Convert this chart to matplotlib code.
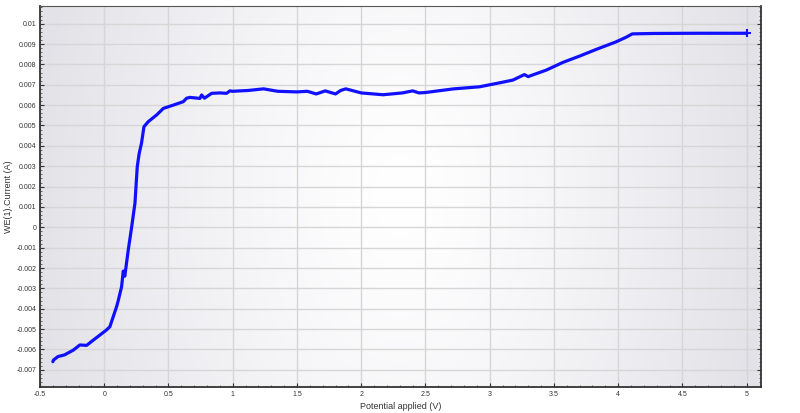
import numpy as np
import matplotlib
matplotlib.use("Agg")
import matplotlib.pyplot as plt
from matplotlib.ticker import MultipleLocator, FixedLocator

plt.rcParams['font.family'] = ['Liberation Sans', 'DejaVu Sans']

# Data
potential = [-0.40, -0.395, -0.36, -0.31, -0.24, -0.19, -0.137, -0.085, -0.033, 0.018,
             0.044, 0.07, 0.096, 0.109, 0.135, 0.148, 0.16, 0.187, 0.213, 0.239,
             0.257, 0.272, 0.29, 0.309, 0.343, 0.408, 0.46, 0.537, 0.615, 0.641,
             0.667, 0.745, 0.758, 0.78, 0.836, 0.90, 0.952, 0.978, 1.0, 1.056,
             1.12, 1.24, 1.35, 1.5, 1.58, 1.65, 1.72, 1.80, 1.84, 1.88, 2.0, 2.17, 2.32, 2.40,
             2.45, 2.5, 2.72, 2.92, 3.08, 3.18, 3.27, 3.30, 3.32, 3.44,
             3.57, 3.70, 3.83, 3.98, 4.06, 4.11, 4.27, 4.6, 5.0]
current = [-0.00660, -0.00652, -0.00635, -0.00627, -0.00603, -0.00578, -0.00580, -0.00554, -0.00529, -0.00504,
           -0.00488, -0.00439, -0.00390, -0.00360, -0.00292, -0.00215, -0.00240, -0.00111, 0.00000, 0.00118,
           0.00298, 0.00363, 0.00413, 0.00494, 0.00519, 0.00552, 0.00584, 0.00600, 0.00617, 0.00634,
           0.00638, 0.00633, 0.00650, 0.00634, 0.00658, 0.00660, 0.00658, 0.00670, 0.00668, 0.00670,
           0.00672, 0.00680, 0.00668, 0.00665, 0.00668, 0.00655, 0.00670, 0.00655, 0.00672, 0.00680, 0.00660, 0.00651, 0.00660, 0.00670,
           0.00660, 0.00662, 0.00680, 0.00690, 0.00710, 0.00723, 0.00750, 0.00740, 0.00745, 0.00772,
           0.00810, 0.00841, 0.00874, 0.00910, 0.00933, 0.00950, 0.00952, 0.00953, 0.00953]

x_ticks = [-0.5, 0, 0.5, 1, 1.5, 2, 2.5, 3, 3.5, 4, 4.5, 5]
x_tick_labels = ['-0.5', '0', '0.5', '1', '1.5', '2', '2.5', '3', '3.5', '4', '4.5', '5']
y_ticks = [-0.007, -0.006, -0.005, -0.004, -0.003, -0.002, -0.001, 0,
           0.001, 0.002, 0.003, 0.004, 0.005, 0.006, 0.007, 0.008, 0.009, 0.01]
y_tick_labels = ['-0.007', '-0.006', '-0.005', '-0.004', '-0.003', '-0.002', '-0.001', '0',
                 '0.001', '0.002', '0.003', '0.004', '0.005', '0.006', '0.007', '0.008', '0.009', '0.01']

fig = plt.figure(figsize=(8.0, 4.13), dpi=100)
fig.patch.set_facecolor('white')
ax = fig.add_axes([0.05, 0.0622, 0.901, 0.9233])

# gradient background
nx, ny = 400, 200
gx = np.linspace(-1, 1, nx)
gy = np.linspace(-1, 1, ny)
GX, GY = np.meshgrid(gx, gy)
r = np.clip(np.sqrt((GX * 1.0) ** 2 + (GY * 0.35) ** 2), 0, 1)
val = 1.0 - 0.11 * r ** 1.3
rgb = np.dstack([val, val, val + 0.02 * r])
rgb = np.clip(rgb, 0, 1)
ax.imshow(rgb, extent=[0, 1, 0, 1], transform=ax.transAxes, aspect='auto', zorder=0)

ax.set_xlim(-0.5, 5.11)
ax.set_ylim(-0.00786, 0.01087)

ax.grid(True, color='#d6d6d6', lw=1.0, zorder=1)
ax.set_axisbelow(True)

ax.plot(potential, current, color='#1010ff', lw=2.3, zorder=3,
        solid_joinstyle='round', solid_capstyle='round')
ax.plot([potential[-1]], [current[-1]], marker='+', color='#1010ff', ms=6, mew=1.5, zorder=4)

ax.xaxis.set_major_locator(FixedLocator(x_ticks))
ax.set_xticklabels(x_tick_labels)
ax.yaxis.set_major_locator(FixedLocator(y_ticks))
ax.set_yticklabels(y_tick_labels)
ax.xaxis.set_minor_locator(MultipleLocator(0.1))
ax.yaxis.set_minor_locator(MultipleLocator(0.0002))

ax.tick_params(axis='both', which='major', labelsize=5.0, colors='#333333',
               length=3, width=0.8, direction='in', pad=2.5)
ax.tick_params(axis='both', which='minor', length=1.5, width=0.5, direction='in', colors='#333333')
ax.tick_params(axis='y', which='both', right=True)
ax.tick_params(axis='x', which='both', top=False)

for s in ['left', 'bottom', 'right']:
    ax.spines[s].set_color('#333333')
    ax.spines[s].set_linewidth(1.3)
ax.spines['top'].set_color('#555555')
ax.spines['top'].set_linewidth(0.8)

ax.set_xlabel('Potential applied (V)', fontsize=6.5, color='#333333', labelpad=3)
ax.set_ylabel('WE(1).Current (A)', fontsize=6.5, color='#333333')
ax.yaxis.set_label_coords(-0.037, 0.5)

fig.savefig('out.png', dpi=100)
